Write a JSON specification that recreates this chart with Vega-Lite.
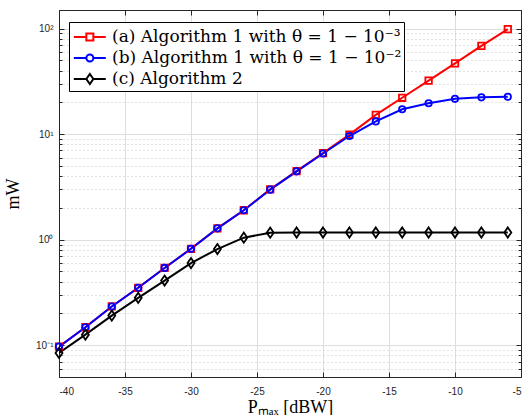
{
  "$schema": "https://vega.github.io/schema/vega-lite/v6.json",
  "width": 462,
  "height": 367,
  "autosize": {"type": "none"},
  "padding": {"left": 59, "top": 10, "right": 3, "bottom": 38},
  "background": "white",
  "config": {
    "view": {"stroke": "#262626", "strokeWidth": 1},
    "axis": {
      "labelFont": "Liberation Sans",
      "labelFontSize": 10,
      "labelColor": "#262626",
      "domainColor": "#262626",
      "tickColor": "#262626",
      "titleFont": "Liberation Serif",
      "titleFontWeight": "normal",
      "titleColor": "black",
      "titleFontSize": 18
    }
  },
  "data": {
    "values": [
      {"x": -40, "series": "(a) Algorithm 1 with θ = 1 − 10⁻³", "value": 0.097},
      {"x": -38, "series": "(a) Algorithm 1 with θ = 1 − 10⁻³", "value": 0.148},
      {"x": -36, "series": "(a) Algorithm 1 with θ = 1 − 10⁻³", "value": 0.233},
      {"x": -34, "series": "(a) Algorithm 1 with θ = 1 − 10⁻³", "value": 0.35},
      {"x": -32, "series": "(a) Algorithm 1 with θ = 1 − 10⁻³", "value": 0.54},
      {"x": -30, "series": "(a) Algorithm 1 with θ = 1 − 10⁻³", "value": 0.82},
      {"x": -28, "series": "(a) Algorithm 1 with θ = 1 − 10⁻³", "value": 1.28},
      {"x": -26, "series": "(a) Algorithm 1 with θ = 1 − 10⁻³", "value": 1.9},
      {"x": -24, "series": "(a) Algorithm 1 with θ = 1 − 10⁻³", "value": 3.0},
      {"x": -22, "series": "(a) Algorithm 1 with θ = 1 − 10⁻³", "value": 4.46},
      {"x": -20, "series": "(a) Algorithm 1 with θ = 1 − 10⁻³", "value": 6.6},
      {"x": -18, "series": "(a) Algorithm 1 with θ = 1 − 10⁻³", "value": 9.9},
      {"x": -16, "series": "(a) Algorithm 1 with θ = 1 − 10⁻³", "value": 15.2},
      {"x": -14, "series": "(a) Algorithm 1 with θ = 1 − 10⁻³", "value": 22.1},
      {"x": -12, "series": "(a) Algorithm 1 with θ = 1 − 10⁻³", "value": 32.1},
      {"x": -10, "series": "(a) Algorithm 1 with θ = 1 − 10⁻³", "value": 46.9},
      {"x": -8, "series": "(a) Algorithm 1 with θ = 1 − 10⁻³", "value": 68.5},
      {"x": -6, "series": "(a) Algorithm 1 with θ = 1 − 10⁻³", "value": 98.7},
      {"x": -40, "series": "(b) Algorithm 1 with θ = 1 − 10⁻²", "value": 0.097},
      {"x": -38, "series": "(b) Algorithm 1 with θ = 1 − 10⁻²", "value": 0.148},
      {"x": -36, "series": "(b) Algorithm 1 with θ = 1 − 10⁻²", "value": 0.233},
      {"x": -34, "series": "(b) Algorithm 1 with θ = 1 − 10⁻²", "value": 0.35},
      {"x": -32, "series": "(b) Algorithm 1 with θ = 1 − 10⁻²", "value": 0.54},
      {"x": -30, "series": "(b) Algorithm 1 with θ = 1 − 10⁻²", "value": 0.82},
      {"x": -28, "series": "(b) Algorithm 1 with θ = 1 − 10⁻²", "value": 1.28},
      {"x": -26, "series": "(b) Algorithm 1 with θ = 1 − 10⁻²", "value": 1.9},
      {"x": -24, "series": "(b) Algorithm 1 with θ = 1 − 10⁻²", "value": 2.98},
      {"x": -22, "series": "(b) Algorithm 1 with θ = 1 − 10⁻²", "value": 4.44},
      {"x": -20, "series": "(b) Algorithm 1 with θ = 1 − 10⁻²", "value": 6.55},
      {"x": -18, "series": "(b) Algorithm 1 with θ = 1 − 10⁻²", "value": 9.6},
      {"x": -16, "series": "(b) Algorithm 1 with θ = 1 − 10⁻²", "value": 13.2},
      {"x": -14, "series": "(b) Algorithm 1 with θ = 1 − 10⁻²", "value": 17.2},
      {"x": -12, "series": "(b) Algorithm 1 with θ = 1 − 10⁻²", "value": 19.6},
      {"x": -10, "series": "(b) Algorithm 1 with θ = 1 − 10⁻²", "value": 21.6},
      {"x": -8, "series": "(b) Algorithm 1 with θ = 1 − 10⁻²", "value": 22.3},
      {"x": -6, "series": "(b) Algorithm 1 with θ = 1 − 10⁻²", "value": 22.6},
      {"x": -40, "series": "(c) Algorithm 2", "value": 0.0845},
      {"x": -38, "series": "(c) Algorithm 2", "value": 0.126},
      {"x": -36, "series": "(c) Algorithm 2", "value": 0.191},
      {"x": -34, "series": "(c) Algorithm 2", "value": 0.281},
      {"x": -32, "series": "(c) Algorithm 2", "value": 0.41},
      {"x": -30, "series": "(c) Algorithm 2", "value": 0.6},
      {"x": -28, "series": "(c) Algorithm 2", "value": 0.815},
      {"x": -26, "series": "(c) Algorithm 2", "value": 1.045},
      {"x": -24, "series": "(c) Algorithm 2", "value": 1.165},
      {"x": -22, "series": "(c) Algorithm 2", "value": 1.17},
      {"x": -20, "series": "(c) Algorithm 2", "value": 1.17},
      {"x": -18, "series": "(c) Algorithm 2", "value": 1.17},
      {"x": -16, "series": "(c) Algorithm 2", "value": 1.17},
      {"x": -14, "series": "(c) Algorithm 2", "value": 1.17},
      {"x": -12, "series": "(c) Algorithm 2", "value": 1.17},
      {"x": -10, "series": "(c) Algorithm 2", "value": 1.17},
      {"x": -8, "series": "(c) Algorithm 2", "value": 1.17},
      {"x": -6, "series": "(c) Algorithm 2", "value": 1.17}
    ]
  },
  "layer": [
    {
      "mark": {"type": "line", "strokeWidth": 2, "clip": true},
      "encoding": {
        "x": {
          "field": "x", "type": "quantitative",
          "scale": {"domain": [-40, -5], "nice": false, "zero": false},
          "axis": {
            "orient": "bottom",
            "values": [-40, -35, -30, -25, -20, -15, -10, -5],
            "labelExpr": "'' + datum.value",
            "grid": true, "gridColor": "#dedede", "gridWidth": 1,
            "tickSize": -5, "labelPadding": 14,
            "title": "Pₘₐₓ [dBW]", "titlePadding": 2
          }
        },
        "y": {
          "field": "value", "type": "quantitative",
          "scale": {"type": "log", "domain": [0.05, 150], "nice": false},
          "axis": {
            "orient": "left",
            "values": [0.06, 0.07, 0.08, 0.09, 0.1, 0.2, 0.3, 0.4, 0.5, 0.6, 0.7, 0.8, 0.9, 1, 2, 3, 4, 5, 6, 7, 8, 9, 10, 20, 30, 40, 50, 60, 70, 80, 90, 100],
            "labelExpr": "datum.value == 100 ? '10²' : datum.value == 10 ? '10¹' : datum.value == 1 ? '10⁰' : datum.value == 0.1 ? '10⁻¹' : ''",
            "grid": true,
            "gridDash": {"condition": {"test": "datum.value == 0.1 || datum.value == 1 || datum.value == 10 || datum.value == 100", "value": []}, "value": [1, 3]},
            "gridColor": {"condition": {"test": "datum.value == 0.1 || datum.value == 1 || datum.value == 10 || datum.value == 100", "value": "#dedede"}, "value": "#c4c4c4"},
            "tickSize": {"condition": {"test": "datum.value == 0.1 || datum.value == 1 || datum.value == 10 || datum.value == 100", "value": -5}, "value": -3},
            "labelPadding": 11,
            "title": "mW", "titlePadding": 13
          }
        },
        "color": {
          "field": "series", "type": "nominal",
          "scale": {"domain": ["(a) Algorithm 1 with θ = 1 − 10⁻³", "(b) Algorithm 1 with θ = 1 − 10⁻²", "(c) Algorithm 2"], "range": ["#ff0000", "#0000ff", "#000000"]},
          "legend": {
            "orient": "none", "legendX": 10, "legendY": 12,
            "title": null,
            "labelFont": "DejaVu Serif", "labelFontSize": 17, "labelColor": "black",
            "labelOffset": 15, "labelLimit": 400,
            "symbolSize": 548, "symbolStrokeWidth": 2, "symbolFillColor": "transparent",
            "padding": 2, "rowPadding": 0,
            "strokeColor": "black", "fillColor": "white", "cornerRadius": 0,
            "encode": {
              "symbols": {
                "update": {
                  "shape": {"signal": "datum.label[1] === 'a' ? 'M-0.87,0H0.2M0.8,0H1.86M0.2,-0.3H0.8V0.3H0.2Z' : datum.label[1] === 'b' ? 'M-0.87,0H0.2M0.8,0H1.86M0.2,0A0.3,0.3 0 1,0 0.8,0A0.3,0.3 0 1,0 0.2,0' : 'M-0.87,0H0.2M0.8,0H1.86M0.5,-0.43L0.8,0L0.5,0.43L0.2,0Z'"},
                  "fill": {"value": "transparent"},
                  "strokeWidth": {"value": 2}
                }
              }
            }
          }
        }
      }
    },
    {
      "transform": [{"filter": "datum.series[1] === 'a'"}],
      "mark": {"type": "point", "filled": false, "strokeWidth": 1.8, "opacity": 1, "shape": "square", "size": 42, "color": "#ff0000"},
      "encoding": {
        "x": {"field": "x", "type": "quantitative", "axis": null},
        "y": {"field": "value", "type": "quantitative", "axis": null}
      }
    },
    {
      "transform": [{"filter": "datum.series[1] === 'b'"}],
      "mark": {"type": "point", "filled": false, "strokeWidth": 1.8, "opacity": 1, "shape": "circle", "size": 40, "color": "#0000ff"},
      "encoding": {
        "x": {"field": "x", "type": "quantitative", "axis": null},
        "y": {"field": "value", "type": "quantitative", "axis": null}
      }
    },
    {
      "transform": [{"filter": "datum.series[1] === 'c'"}],
      "mark": {"type": "point", "filled": false, "strokeWidth": 1.8, "opacity": 1, "shape": "M0,-1.45L1,0L0,1.45L-1,0Z", "size": 49, "color": "#000000"},
      "encoding": {
        "x": {
          "field": "x", "type": "quantitative",
          "axis": {"orient": "top", "values": [-40, -35, -30, -25, -20, -15, -10, -5], "labels": false, "grid": false, "tickSize": -5, "title": null}
        },
        "y": {
          "field": "value", "type": "quantitative",
          "axis": {
            "orient": "right",
            "values": [0.06, 0.07, 0.08, 0.09, 0.1, 0.2, 0.3, 0.4, 0.5, 0.6, 0.7, 0.8, 0.9, 1, 2, 3, 4, 5, 6, 7, 8, 9, 10, 20, 30, 40, 50, 60, 70, 80, 90, 100],
            "labels": false, "grid": false,
            "tickSize": {"condition": {"test": "datum.value == 0.1 || datum.value == 1 || datum.value == 10 || datum.value == 100", "value": -5}, "value": -3},
            "title": null
          }
        }
      }
    }
  ],
  "resolve": {"axis": {"x": "independent", "y": "independent"}}
}
